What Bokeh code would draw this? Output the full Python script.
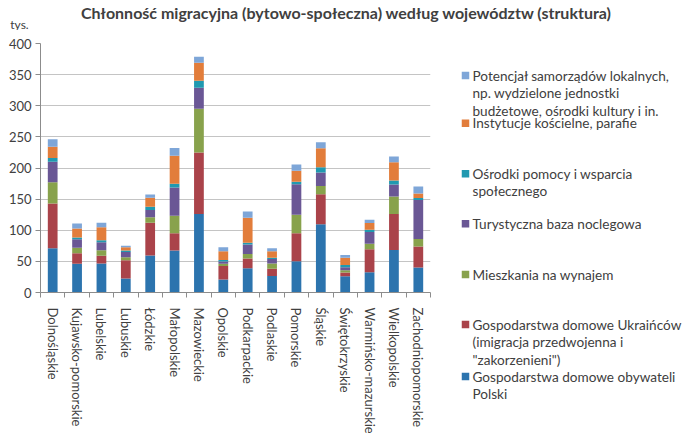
from bokeh.plotting import figure
from bokeh.layouts import column, row
from bokeh.models import ColumnDataSource, FixedTicker, Range1d
from bokeh.core.properties import value
from bokeh.embed import file_html
from bokeh.resources import INLINE

# ---------------- data ----------------
categories = ["Dolnośląskie", "Kujawsko-pomorskie", "Lubelskie", "Lubuskie", "Łódzkie",
              "Małopolskie", "Mazowieckie", "Opolskie", "Podkarpackie", "Podlaskie",
              "Pomorskie", "Śląskie", "Świętokrzyskie", "Warmińsko-mazurskie",
              "Wielkopolskie", "Zachodniopomorskie"]

gosp_polski = [71, 46, 46.5, 22.4, 59.3, 67.3, 126, 20.8, 39, 26.7, 50.2, 109.5, 26.2, 32.6, 68.4, 40]
gosp_ukraincow = [72, 17, 12.5, 29.4, 52.7, 27.7, 98.8, 21.9, 15.5, 11.3, 44.8, 48.5, 5.8, 36.8, 57.6, 33.7]
mieszkania = [34, 9, 9, 4.8, 8.7, 28.4, 70.5, 3.3, 7.5, 8.5, 30, 13, 3.8, 9.1, 28.3, 12.3]
turystyczna = [33, 13.5, 12.6, 8.4, 11.7, 45.4, 33.7, 3.7, 15, 7.5, 49, 21.8, 4.8, 18.7, 19.3, 62.5]
osrodki = [6, 3, 3.4, 2.3, 5.4, 5.8, 11.2, 2.6, 3, 2, 3.8, 8.5, 3.7, 3.8, 6.4, 3.2]
koscielne = [18, 14.5, 20.7, 5.3, 14.4, 44.9, 28.8, 13.9, 40, 10.2, 17.7, 30.5, 11.7, 10.6, 29.3, 7.4]
samorzady = [12, 8, 7.3, 2.7, 5.3, 12.8, 9.6, 6.4, 10.3, 4.8, 10.1, 9.6, 4.3, 5.4, 9.1, 11.3]

series_names = ["Gospodarstwa domowe obywateli\nPolski",
                "Gospodarstwa domowe Ukraińców\n(imigracja przedwojenna i\n\"zakorzenieni\")",
                "Mieszkania na wynajem",
                "Turystyczna baza noclegowa",
                "Ośrodki pomocy i wsparcia\nspołecznego",
                "Instytucje kościelne, parafie",
                "Potencjał samorządów lokalnych,\nnp. wydzielone jednostki\nbudżetowe, ośrodki kultury i in."]
series_values = [gosp_polski, gosp_ukraincow, mieszkania, turystyczna, osrodki, koscielne, samorzady]
colors = ["#2C74AE", "#AA434A", "#88A24C", "#6A5795", "#2099B0", "#E27D3B", "#7EA6D8"]

title_text = "Chłonność migracyjna (bytowo-społeczna) według województw (struktura)"
unit_text = "tys."
y_ticks = [0, 50, 100, 150, 200, 250, 300, 350, 400]

FONT = "Lato"
TXT = "#404040"

# ---------------- title strip ----------------
top = figure(width=684, height=30, x_range=Range1d(0, 684), y_range=Range1d(30, 0),
             output_backend="svg", toolbar_location=None, min_border=0)
top.axis.visible = False
top.grid.visible = False
top.outline_line_color = None
top.text(x=[346], y=[12], text=[title_text], text_font=value(FONT), text_font_style="bold",
         text_font_size="16px", text_color=TXT, text_align="center", text_baseline="middle")
top.text(x=[19], y=[23.5], text=[unit_text], text_font=value(FONT), text_font_size="12px",
         text_color=TXT, text_align="center", text_baseline="middle")

# ---------------- main chart ----------------
keys = ["s%d" % i for i in range(len(series_values))]
data = {"x": [i + 0.5 for i in range(len(categories))]}
for k, v in zip(keys, series_values):
    data[k] = v
src = ColumnDataSource(data)

p = figure(width=438, height=411, x_range=Range1d(0, len(categories)), y_range=Range1d(0, 400),
           output_backend="svg", toolbar_location=None,
           min_border_left=40, min_border_right=8, min_border_top=13, min_border_bottom=149)
p.outline_line_color = None
p.vbar_stack(keys, x="x", width=0.4, source=src, color=colors, line_color=None)

p.xgrid.visible = False
p.ygrid.grid_line_color = "#C4C4C4"
p.ygrid.grid_line_width = 1
p.yaxis.ticker = FixedTicker(ticks=y_ticks)
p.yaxis.axis_line_color = "#8C8C8C"
p.yaxis.major_tick_line_color = "#8C8C8C"
p.yaxis.major_tick_out = 5
p.yaxis.major_tick_in = 0
p.yaxis.minor_tick_line_color = None
p.yaxis.major_label_text_font = FONT
p.yaxis.major_label_text_font_size = "13px"
p.yaxis.major_label_text_color = TXT
p.yaxis.major_label_standoff = 4

p.xaxis.ticker = FixedTicker(ticks=[i + 0.5 for i in range(len(categories))],
                             minor_ticks=list(range(len(categories) + 1)))
p.xaxis.major_label_overrides = {i + 0.5: c for i, c in enumerate(categories)}
p.xaxis.major_label_orientation = "vertical"
p.xaxis.axis_line_color = "#8C8C8C"
p.xaxis.major_tick_line_color = None
p.xaxis.major_tick_out = 0
p.xaxis.major_tick_in = 0
p.xaxis.minor_tick_line_color = "#8C8C8C"
p.xaxis.minor_tick_out = 5
p.xaxis.minor_tick_in = 0
p.xaxis.major_label_text_font = FONT
p.xaxis.major_label_text_font_size = "13px"
p.xaxis.major_label_text_color = TXT
p.xaxis.major_label_standoff = 10

# ---------------- legend ----------------
leg = figure(width=246, height=411, x_range=Range1d(0, 246), y_range=Range1d(411, 0),
             output_backend="svg", toolbar_location=None, min_border=0)
leg.axis.visible = False
leg.grid.visible = False
leg.outline_line_color = None
# legend order top -> bottom is reverse of stacking order
leg_first_line_y = [45, 92.7, 143.3, 193.3, 244, 294, 346]
line_step = 17.6
order = list(range(len(series_names)))[::-1]
for slot, idx in enumerate(order):
    yy = leg_first_line_y[slot]
    leg.rect(x=[27], y=[yy], width=7.5, height=7.5, color=colors[idx], line_color=None)
    lines = series_names[idx].split("\n")
    leg.text(x=[34] * len(lines), y=[yy + line_step * j for j in range(len(lines))], text=lines,
             text_font=value(FONT), text_font_size="13.6px", text_color=TXT,
             text_align="left", text_baseline="middle")

layout = column(top, row(p, column(leg)))
open("out.html", "w").write(file_html(layout, INLINE))
